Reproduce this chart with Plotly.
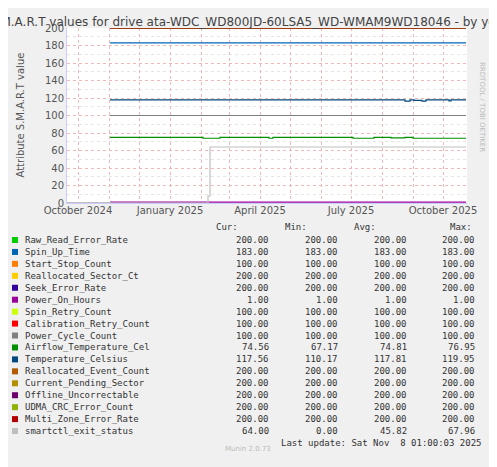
import plotly.graph_objects as go

# S.M.A.R.T attributes - step series (change dates, values)
names = ["Raw_Read_Error_Rate", "Spin_Up_Time", "Start_Stop_Count", "Reallocated_Sector_Ct",
         "Seek_Error_Rate", "Power_On_Hours", "Spin_Retry_Count", "Calibration_Retry_Count",
         "Power_Cycle_Count", "Airflow_Temperature_Cel", "Temperature_Celsius",
         "Reallocated_Event_Count", "Current_Pending_Sector", "Offline_Uncorrectable",
         "UDMA_CRC_Error_Count", "Multi_Zone_Error_Rate", "smartctl_exit_status"]
colors = ["#00CC00", "#0066B3", "#FF8000", "#FFCC00", "#330099", "#990099", "#CCFF00",
          "#FF0000", "#808080", "#008F00", "#00487D", "#B35A00", "#B38F00", "#6B006B",
          "#8FB300", "#B30000", "#BEBEBE"]
cur = [200, 183, 100, 200, 200, 1, 100, 100, 100, 74.56, 117.56, 200, 200, 200, 200, 200, 64]
mn = [200, 183, 100, 200, 200, 1, 100, 100, 100, 67.17, 110.17, 200, 200, 200, 200, 200, 0]
avg = [200, 183, 100, 200, 200, 1, 100, 100, 100, 74.81, 117.81, 200, 200, 200, 200, 200, 45.82]
mx = [200, 183, 100, 200, 200, 1, 100, 100, 100, 76.95, 119.95, 200, 200, 200, 200, 200, 67.96]

start, end = "2024-11-02", "2025-10-24"
airflow_dates = ["2024-11-02", "2025-02-03", "2025-02-20", "2025-04-10", "2025-04-14", "2025-06-28",
                 "2025-07-03", "2025-07-24", "2025-08-10", "2025-08-24", "2025-09-01", end]
airflow_vals = [75, 74, 75, 74, 75, 75, 74, 75, 74.5, 75, 74, 74]
temp_dates = ["2024-11-02", "2025-08-24", "2025-08-29", "2025-09-02", "2025-09-10", "2025-09-14",
              "2025-10-07", "2025-10-09", end]
temp_vals = [117.8, 116.5, 117.8, 117.2, 116.5, 117.8, 116.8, 117.8, 117.8]
exit_dates = ["2024-09-20", "2024-11-02", "2025-02-05", "2025-02-08", "2025-02-10", end]
exit_vals = [0.5, 0, 0, 8, 64, 64]

fig = go.Figure()
for i, n in enumerate(names):
    if n == "Airflow_Temperature_Cel":
        x, y = airflow_dates, airflow_vals
    elif n == "Temperature_Celsius":
        x, y = temp_dates, temp_vals
    elif n == "smartctl_exit_status":
        x, y = exit_dates, exit_vals
    else:
        x, y = [start, end], [cur[i], cur[i]]
    fig.add_trace(go.Scatter(x=x, y=y, mode="lines", line=dict(color=colors[i], width=1.2,
                  shape="hv"), showlegend=False, hoverinfo="skip"))

# page body has an 8px margin, so work in reference pixels and shift
OFF = 8
W, H = 497 - OFF, 467 - OFF
L, R, T = 67 - OFF, 30, 28 - OFF
PW, PH = 400, 175
B = H - T - PH
def px(xp): return (xp - OFF - L) / PW
def py(yp): return (H - B - (yp - OFF)) / PH

ann = []
mono = dict(family="DejaVu Sans Mono", size=9, color="#333")
ann.append(dict(x=px(240), y=py(227), text="Cur:", xanchor="right"))
ann.append(dict(x=px(309), y=py(227), text="Min:", xanchor="right"))
ann.append(dict(x=px(378), y=py(227), text="Avg:", xanchor="right"))
ann.append(dict(x=px(474), y=py(227), text="Max:", xanchor="right"))
shapes = []
for i, n in enumerate(names):
    yy = 240 + i * 11.94
    ann.append(dict(x=px(23), y=py(yy), text=n, xanchor="left"))
    for v, xr in zip((cur[i], mn[i], avg[i], mx[i]), (271, 340, 409, 477)):
        ann.append(dict(x=px(xr), y=py(yy), text=f"{v:.2f}", xanchor="right"))
    shapes.append(dict(type="rect", xref="paper", yref="paper", x0=px(12), x1=px(18),
                       y0=py(yy + 3), y1=py(yy - 3), fillcolor=colors[i], line_width=0))
ann.append(dict(x=px(483), y=py(443), text="Last update: Sat Nov  8 01:00:03 2025", xanchor="right"))
for a in ann:
    a.update(xref="paper", yref="paper", showarrow=False, yanchor="middle", font=mono)
ann.append(dict(x=px(248), y=py(455), xref="paper", yref="paper", showarrow=False,
                text="Munin 2.0.73", font=dict(family="DejaVu Sans", size=7, color="#bbb")))
ann.append(dict(x=px(488), y=py(60), xref="paper", yref="paper", showarrow=False, textangle=90,
                text="RRDTOOL / TOBI OETIKER", font=dict(family="DejaVu Sans", size=7, color="#bbb")))
ann.append(dict(x=px(248), y=py(13), xref="paper", yref="paper", showarrow=False,
                text="S.M.A.R.T values for drive ata-WDC_WD800JD-60LSA5_WD-WMAM9WD18046 - by year",
                font=dict(family="DejaVu Sans", size=12, color="#444")))
ann.append(dict(x=px(12), y=py(115), xref="paper", yref="paper", showarrow=False, textangle=-90,
                text="Attribute S.M.A.R.T value", font=dict(family="DejaVu Sans", size=10, color="#555")))

fig.update_layout(
    width=W, height=H, margin=dict(l=L, r=R, t=T, b=B),
    paper_bgcolor="#F0F0F0", plot_bgcolor="#FFFFFF",
    annotations=ann, shapes=shapes,
    xaxis=dict(range=["2024-09-20", "2025-10-25"], showgrid=True, gridcolor="#F2B8B8",
               griddash="dot", dtick="M1", tick0="2024-10-01", showticklabels=False,
               showline=True, linecolor="#ccccff", zeroline=False),
    yaxis=dict(range=[0, 200], dtick=20, showgrid=True, gridcolor="#F2B8B8", griddash="dot",
               tickfont=dict(family="DejaVu Sans", size=10, color="#555"), zeroline=False,
               showline=True, linecolor="#ccccff",
               minor=dict(dtick=10, showgrid=True, gridcolor="#E6E6E6", griddash="dot")),
    xaxis2=dict(overlaying="x", range=["2024-09-20", "2025-10-25"], side="bottom",
                tickvals=["2024-10-01", "2025-01-01", "2025-04-01", "2025-07-01", "2025-10-01"],
                ticktext=["October 2024", "January 2025", "April 2025", "July 2025", "October 2025"],
                showgrid=False, tickfont=dict(family="DejaVu Sans", size=10, color="#555"),
                ticklen=0, anchor="y"),
)
fig.add_trace(go.Scatter(x=["2024-09-20"], y=[None], xaxis="x2", showlegend=False))
fig.write_html("out.html")
